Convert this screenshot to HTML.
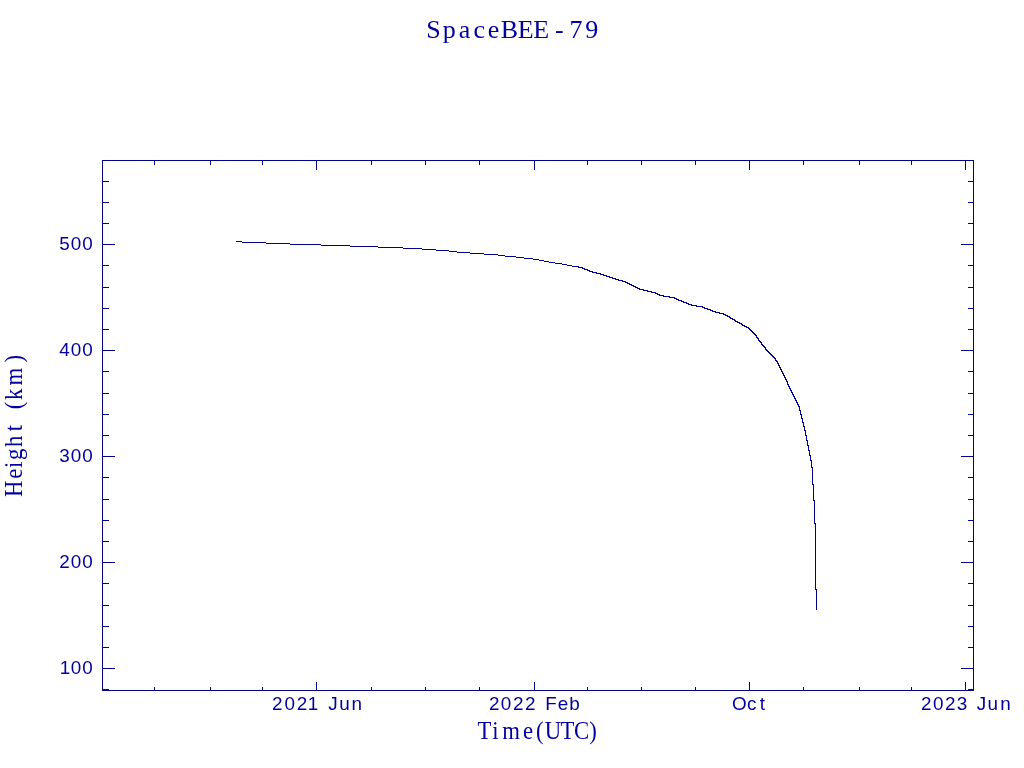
<!DOCTYPE html>
<html><head><meta charset="utf-8"><title>SpaceBEE-79</title>
<style>html,body{margin:0;padding:0;background:#fff;overflow:hidden}svg{display:block}</style>
</head><body>
<svg width="1024" height="768" viewBox="0 0 1024 768">
<rect width="1024" height="768" fill="#ffffff"/>
<g fill="#00008b" shape-rendering="crispEdges">
<rect x="102" y="160" width="872" height="1"/>
<rect x="102" y="690" width="872" height="1"/>
<rect x="102" y="160" width="1" height="531"/>
<rect x="973" y="160" width="1" height="531"/>
<rect x="102" y="689" width="7" height="1"/>
<rect x="968" y="689" width="6" height="1"/>
<rect x="102" y="668" width="13" height="1"/>
<rect x="961" y="668" width="13" height="1"/>
<rect x="102" y="647" width="7" height="1"/>
<rect x="968" y="647" width="6" height="1"/>
<rect x="102" y="626" width="7" height="1"/>
<rect x="968" y="626" width="6" height="1"/>
<rect x="102" y="605" width="7" height="1"/>
<rect x="968" y="605" width="6" height="1"/>
<rect x="102" y="583" width="7" height="1"/>
<rect x="968" y="583" width="6" height="1"/>
<rect x="102" y="562" width="13" height="1"/>
<rect x="961" y="562" width="13" height="1"/>
<rect x="102" y="541" width="7" height="1"/>
<rect x="968" y="541" width="6" height="1"/>
<rect x="102" y="520" width="7" height="1"/>
<rect x="968" y="520" width="6" height="1"/>
<rect x="102" y="499" width="7" height="1"/>
<rect x="968" y="499" width="6" height="1"/>
<rect x="102" y="477" width="7" height="1"/>
<rect x="968" y="477" width="6" height="1"/>
<rect x="102" y="456" width="13" height="1"/>
<rect x="961" y="456" width="13" height="1"/>
<rect x="102" y="435" width="7" height="1"/>
<rect x="968" y="435" width="6" height="1"/>
<rect x="102" y="414" width="7" height="1"/>
<rect x="968" y="414" width="6" height="1"/>
<rect x="102" y="393" width="7" height="1"/>
<rect x="968" y="393" width="6" height="1"/>
<rect x="102" y="371" width="7" height="1"/>
<rect x="968" y="371" width="6" height="1"/>
<rect x="102" y="350" width="13" height="1"/>
<rect x="961" y="350" width="13" height="1"/>
<rect x="102" y="329" width="7" height="1"/>
<rect x="968" y="329" width="6" height="1"/>
<rect x="102" y="308" width="7" height="1"/>
<rect x="968" y="308" width="6" height="1"/>
<rect x="102" y="287" width="7" height="1"/>
<rect x="968" y="287" width="6" height="1"/>
<rect x="102" y="265" width="7" height="1"/>
<rect x="968" y="265" width="6" height="1"/>
<rect x="102" y="244" width="13" height="1"/>
<rect x="961" y="244" width="13" height="1"/>
<rect x="102" y="223" width="7" height="1"/>
<rect x="968" y="223" width="6" height="1"/>
<rect x="102" y="202" width="7" height="1"/>
<rect x="968" y="202" width="6" height="1"/>
<rect x="102" y="181" width="7" height="1"/>
<rect x="968" y="181" width="6" height="1"/>
<rect x="154" y="160" width="1" height="5"/>
<rect x="154" y="687" width="1" height="4"/>
<rect x="210" y="160" width="1" height="5"/>
<rect x="210" y="687" width="1" height="4"/>
<rect x="262" y="160" width="1" height="5"/>
<rect x="262" y="687" width="1" height="4"/>
<rect x="316" y="160" width="1" height="10"/>
<rect x="316" y="682" width="1" height="9"/>
<rect x="371" y="160" width="1" height="5"/>
<rect x="371" y="687" width="1" height="4"/>
<rect x="425" y="160" width="1" height="5"/>
<rect x="425" y="687" width="1" height="4"/>
<rect x="479" y="160" width="1" height="5"/>
<rect x="479" y="687" width="1" height="4"/>
<rect x="534" y="160" width="1" height="10"/>
<rect x="534" y="682" width="1" height="9"/>
<rect x="587" y="160" width="1" height="5"/>
<rect x="587" y="687" width="1" height="4"/>
<rect x="641" y="160" width="1" height="5"/>
<rect x="641" y="687" width="1" height="4"/>
<rect x="695" y="160" width="1" height="5"/>
<rect x="695" y="687" width="1" height="4"/>
<rect x="749" y="160" width="1" height="10"/>
<rect x="749" y="682" width="1" height="9"/>
<rect x="803" y="160" width="1" height="5"/>
<rect x="803" y="687" width="1" height="4"/>
<rect x="859" y="160" width="1" height="5"/>
<rect x="859" y="687" width="1" height="4"/>
<rect x="911" y="160" width="1" height="5"/>
<rect x="911" y="687" width="1" height="4"/>
<rect x="965" y="160" width="1" height="10"/>
<rect x="965" y="682" width="1" height="9"/>
</g>
<g fill="#00008b" shape-rendering="crispEdges">
<rect x="236" y="241" width="6" height="1"/>
<rect x="242" y="242" width="24" height="1"/>
<rect x="266" y="243" width="24" height="1"/>
<rect x="290" y="244" width="31" height="1"/>
<rect x="321" y="245" width="29" height="1"/>
<rect x="350" y="246" width="28" height="1"/>
<rect x="378" y="247" width="25" height="1"/>
<rect x="403" y="248" width="19" height="1"/>
<rect x="422" y="249" width="14" height="1"/>
<rect x="436" y="250" width="13" height="1"/>
<rect x="449" y="251" width="8" height="1"/>
<rect x="457" y="252" width="13" height="1"/>
<rect x="470" y="253" width="14" height="1"/>
<rect x="484" y="254" width="14" height="1"/>
<rect x="498" y="255" width="7" height="1"/>
<rect x="505" y="256" width="11" height="1"/>
<rect x="516" y="257" width="8" height="1"/>
<rect x="524" y="258" width="9" height="1"/>
<rect x="533" y="259" width="6" height="1"/>
<rect x="539" y="260" width="5" height="1"/>
<rect x="544" y="261" width="5" height="1"/>
<rect x="549" y="262" width="6" height="1"/>
<rect x="555" y="263" width="7" height="1"/>
<rect x="562" y="264" width="5" height="1"/>
<rect x="567" y="265" width="5" height="1"/>
<rect x="572" y="266" width="5" height="1"/>
<rect x="576" y="266" width="3" height="1"/>
<rect x="578" y="267" width="5" height="1"/>
<rect x="582" y="268" width="3" height="1"/>
<rect x="584" y="269" width="4" height="1"/>
<rect x="587" y="270" width="3" height="1"/>
<rect x="589" y="271" width="4" height="1"/>
<rect x="592" y="272" width="5" height="1"/>
<rect x="596" y="273" width="5" height="1"/>
<rect x="600" y="274" width="4" height="1"/>
<rect x="603" y="275" width="4" height="1"/>
<rect x="606" y="276" width="4" height="1"/>
<rect x="609" y="277" width="4" height="1"/>
<rect x="612" y="278" width="4" height="1"/>
<rect x="615" y="279" width="4" height="1"/>
<rect x="618" y="280" width="5" height="1"/>
<rect x="622" y="281" width="4" height="1"/>
<rect x="625" y="282" width="3" height="1"/>
<rect x="627" y="283" width="3" height="1"/>
<rect x="629" y="284" width="3" height="1"/>
<rect x="631" y="285" width="3" height="1"/>
<rect x="633" y="286" width="3" height="1"/>
<rect x="635" y="287" width="3" height="1"/>
<rect x="637" y="288" width="3" height="1"/>
<rect x="639" y="289" width="5" height="1"/>
<rect x="643" y="290" width="5" height="1"/>
<rect x="647" y="291" width="5" height="1"/>
<rect x="651" y="292" width="5" height="1"/>
<rect x="655" y="293" width="3" height="1"/>
<rect x="657" y="294" width="3" height="1"/>
<rect x="659" y="295" width="5" height="1"/>
<rect x="663" y="296" width="7" height="1"/>
<rect x="669" y="297" width="6" height="1"/>
<rect x="674" y="298" width="3" height="1"/>
<rect x="676" y="299" width="3" height="1"/>
<rect x="678" y="300" width="4" height="1"/>
<rect x="681" y="301" width="3" height="1"/>
<rect x="683" y="302" width="4" height="1"/>
<rect x="686" y="303" width="3" height="1"/>
<rect x="688" y="304" width="4" height="1"/>
<rect x="691" y="305" width="6" height="1"/>
<rect x="696" y="306" width="7" height="1"/>
<rect x="702" y="307" width="3" height="1"/>
<rect x="704" y="308" width="4" height="1"/>
<rect x="707" y="309" width="4" height="1"/>
<rect x="710" y="310" width="3" height="1"/>
<rect x="712" y="311" width="4" height="1"/>
<rect x="715" y="312" width="5" height="1"/>
<rect x="719" y="313" width="5" height="1"/>
<rect x="723" y="314" width="3" height="1"/>
<rect x="725" y="315" width="3" height="1"/>
<rect x="727" y="316" width="3" height="1"/>
<rect x="729" y="317" width="2" height="1"/>
<rect x="730" y="318" width="3" height="1"/>
<rect x="732" y="319" width="3" height="1"/>
<rect x="734" y="320" width="2" height="1"/>
<rect x="735" y="321" width="3" height="1"/>
<rect x="737" y="322" width="3" height="1"/>
<rect x="739" y="323" width="3" height="1"/>
<rect x="741" y="324" width="2" height="1"/>
<rect x="742" y="325" width="3" height="1"/>
<rect x="744" y="326" width="3" height="1"/>
<rect x="746" y="327" width="3" height="1"/>
<rect x="748" y="328" width="2" height="1"/>
<rect x="749" y="329" width="2" height="1"/>
<rect x="750" y="330" width="2" height="1"/>
<rect x="751" y="331" width="2" height="1"/>
<rect x="752" y="332" width="2" height="1"/>
<rect x="753" y="333" width="2" height="1"/>
<rect x="754" y="334" width="2" height="1"/>
<rect x="755" y="335" width="2" height="1"/>
<rect x="756" y="336" width="1" height="1"/>
<rect x="756" y="337" width="2" height="1"/>
<rect x="757" y="338" width="2" height="1"/>
<rect x="758" y="339" width="1" height="1"/>
<rect x="758" y="340" width="2" height="1"/>
<rect x="759" y="341" width="2" height="1"/>
<rect x="760" y="342" width="2" height="1"/>
<rect x="761" y="343" width="1" height="1"/>
<rect x="761" y="344" width="2" height="1"/>
<rect x="762" y="345" width="2" height="1"/>
<rect x="763" y="346" width="2" height="1"/>
<rect x="764" y="347" width="2" height="1"/>
<rect x="765" y="348" width="1" height="1"/>
<rect x="765" y="349" width="2" height="1"/>
<rect x="766" y="350" width="2" height="1"/>
<rect x="767" y="351" width="2" height="1"/>
<rect x="768" y="352" width="2" height="1"/>
<rect x="769" y="353" width="2" height="1"/>
<rect x="770" y="354" width="2" height="1"/>
<rect x="771" y="355" width="2" height="1"/>
<rect x="772" y="356" width="2" height="1"/>
<rect x="773" y="357" width="2" height="1"/>
<rect x="774" y="358" width="2" height="1"/>
<rect x="775" y="359" width="1" height="1"/>
<rect x="775" y="360" width="2" height="1"/>
<rect x="776" y="361" width="2" height="1"/>
<rect x="777" y="362" width="1" height="1"/>
<rect x="777" y="363" width="2" height="1"/>
<rect x="778" y="364" width="1" height="1"/>
<rect x="778" y="365" width="2" height="1"/>
<rect x="779" y="366" width="1" height="1"/>
<rect x="779" y="367" width="2" height="1"/>
<rect x="780" y="368" width="1" height="1"/>
<rect x="780" y="369" width="2" height="1"/>
<rect x="781" y="370" width="1" height="1"/>
<rect x="781" y="371" width="2" height="1"/>
<rect x="782" y="372" width="1" height="1"/>
<rect x="782" y="373" width="2" height="1"/>
<rect x="783" y="374" width="1" height="1"/>
<rect x="783" y="375" width="2" height="1"/>
<rect x="784" y="376" width="1" height="1"/>
<rect x="784" y="377" width="2" height="1"/>
<rect x="785" y="378" width="1" height="1"/>
<rect x="785" y="379" width="2" height="1"/>
<rect x="786" y="380" width="1" height="1"/>
<rect x="786" y="381" width="2" height="1"/>
<rect x="787" y="382" width="1" height="2"/>
<rect x="787" y="384" width="2" height="1"/>
<rect x="788" y="385" width="1" height="1"/>
<rect x="788" y="386" width="2" height="1"/>
<rect x="789" y="387" width="1" height="1"/>
<rect x="789" y="388" width="2" height="1"/>
<rect x="790" y="389" width="1" height="1"/>
<rect x="790" y="390" width="2" height="1"/>
<rect x="791" y="391" width="1" height="1"/>
<rect x="791" y="392" width="2" height="1"/>
<rect x="792" y="393" width="1" height="1"/>
<rect x="792" y="394" width="2" height="1"/>
<rect x="793" y="395" width="1" height="1"/>
<rect x="793" y="396" width="2" height="1"/>
<rect x="794" y="397" width="1" height="1"/>
<rect x="794" y="398" width="2" height="1"/>
<rect x="795" y="399" width="1" height="1"/>
<rect x="795" y="400" width="2" height="1"/>
<rect x="796" y="401" width="1" height="1"/>
<rect x="796" y="402" width="2" height="1"/>
<rect x="797" y="403" width="1" height="1"/>
<rect x="797" y="404" width="2" height="1"/>
<rect x="798" y="405" width="1" height="1"/>
<rect x="798" y="406" width="2" height="1"/>
<rect x="799" y="407" width="1" height="3"/>
<rect x="799" y="410" width="2" height="1"/>
<rect x="800" y="411" width="1" height="3"/>
<rect x="800" y="414" width="2" height="1"/>
<rect x="801" y="415" width="1" height="3"/>
<rect x="801" y="418" width="2" height="1"/>
<rect x="802" y="419" width="1" height="3"/>
<rect x="802" y="422" width="2" height="1"/>
<rect x="803" y="423" width="1" height="3"/>
<rect x="803" y="426" width="2" height="1"/>
<rect x="804" y="427" width="1" height="3"/>
<rect x="804" y="430" width="2" height="1"/>
<rect x="805" y="431" width="1" height="4"/>
<rect x="805" y="435" width="2" height="1"/>
<rect x="806" y="436" width="1" height="4"/>
<rect x="806" y="440" width="2" height="1"/>
<rect x="807" y="441" width="1" height="4"/>
<rect x="807" y="445" width="2" height="1"/>
<rect x="808" y="446" width="1" height="4"/>
<rect x="808" y="450" width="2" height="1"/>
<rect x="809" y="451" width="1" height="4"/>
<rect x="809" y="455" width="2" height="1"/>
<rect x="810" y="456" width="1" height="4"/>
<rect x="810" y="460" width="2" height="1"/>
<rect x="811" y="461" width="1" height="6"/>
<rect x="811" y="467" width="2" height="1"/>
<rect x="812" y="468" width="1" height="16"/>
<rect x="812" y="484" width="2" height="1"/>
<rect x="813" y="485" width="1" height="15"/>
<rect x="813" y="500" width="2" height="1"/>
<rect x="814" y="501" width="1" height="22"/>
<rect x="814" y="523" width="2" height="1"/>
<rect x="815" y="524" width="1" height="65"/>
<rect x="815" y="589" width="2" height="1"/>
<rect x="816" y="590" width="1" height="20"/>
</g>

<g fill="#0000a0">
<text x="426.29 442.81 458.75 473.62 487.69 500.71 517.86 533.31 555.00 569.50 585.20" y="38" font-family="'Liberation Serif', serif" font-size="26">SpaceBEE-79</text>
<text x="513.52 529.30 539.98 562.30 576.26 585.81 602.69 617.11 633.59" y="739" font-family="'Liberation Serif', serif" font-size="24.5" transform="scale(0.93,1)">Time(UTC)</text>
<text x="-0.97 18.42 30.16 38.60 52.70 69.57 76.38 93.38 103.25 118.88 143.43" y="0" font-family="'Liberation Serif', serif" font-size="24.5" transform="translate(22,496) rotate(-90) scale(0.93,1)">Height (km)</text>
<text x="259.17 270.86 282.62 293.08 303.09 312.52 323.06 334.84" y="710" font-family="'Liberation Sans', sans-serif" font-size="18" transform="scale(1.05,1)">2021 Jun</text>
<text x="465.67 476.90 488.62 500.10 510.11 519.27 531.29 542.10" y="710" font-family="'Liberation Sans', sans-serif" font-size="18" transform="scale(1.05,1)">2022 Feb</text>
<text x="697.19 711.52 723.63" y="710" font-family="'Liberation Sans', sans-serif" font-size="18" transform="scale(1.05,1)">Oct</text>
<text x="877.10 888.57 900.05 911.19 921.20 930.24 940.49 952.51" y="710" font-family="'Liberation Sans', sans-serif" font-size="18" transform="scale(1.05,1)">2023 Jun</text>
<text x="56.38 67.33 78.33" y="250" font-family="'Liberation Sans', sans-serif" font-size="18" transform="scale(1.05,1)">500</text>
<text x="56.40 67.33 78.33" y="356" font-family="'Liberation Sans', sans-serif" font-size="18" transform="scale(1.05,1)">400</text>
<text x="56.38 67.33 78.33" y="462" font-family="'Liberation Sans', sans-serif" font-size="18" transform="scale(1.05,1)">300</text>
<text x="56.38 67.33 78.33" y="568" font-family="'Liberation Sans', sans-serif" font-size="18" transform="scale(1.05,1)">200</text>
<text x="56.99 67.33 78.33" y="674" font-family="'Liberation Sans', sans-serif" font-size="18" transform="scale(1.05,1)">100</text>
</g>
</svg>
</body></html>
